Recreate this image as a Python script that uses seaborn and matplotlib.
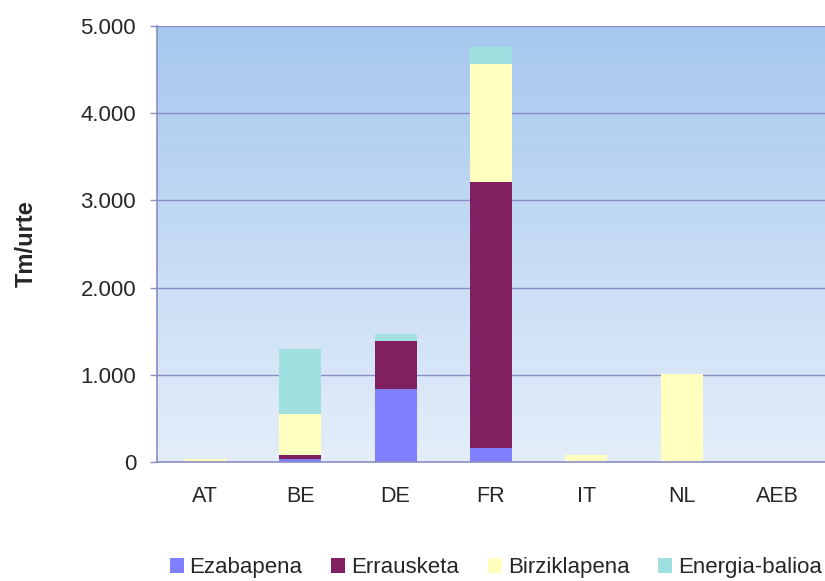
import numpy as np
import pandas as pd
import matplotlib
matplotlib.use('Agg')
import matplotlib.pyplot as plt
import seaborn as sns
from matplotlib.patches import Patch
from matplotlib.ticker import FuncFormatter

# data (Tm/urte)
countries = ['AT', 'BE', 'DE', 'FR', 'IT', 'NL', 'AEB']
ezabapena = [0, 30, 840, 160, 0, 0, 0]
errausketa = [0, 45, 550, 3050, 0, 0, 0]
birziklapena = [30, 475, 0, 1355, 80, 1010, 0]
energia = [0, 745, 80, 195, 0, 0, 0]

series = ['Ezabapena', 'Errausketa', 'Birziklapena', 'Energia-balioa']
colors = ['#8080FF', '#802060', '#FFFFC0', '#A0E0E0']

df = pd.DataFrame({'Ezabapena': ezabapena, 'Errausketa': errausketa,
                   'Birziklapena': birziklapena, 'Energia-balioa': energia},
                  index=countries)
cum = df.cumsum(axis=1)

sns.set_style('white')
plt.rcParams['font.family'] = ['Liberation Sans', 'DejaVu Sans']

fig = plt.figure(figsize=(8.25, 5.81), dpi=100)
ax = fig.add_axes([157 / 825, 1 - 462 / 581, 1 - 157 / 825, (462 - 26) / 581])

# gradient background
grad = np.linspace(0, 1, 256).reshape(-1, 1)
top = np.array([0.651, 0.784, 0.933])
bot = np.array([0.894, 0.933, 0.980])
img = top * (1 - grad[..., None]) + bot * grad[..., None]
ax.imshow(img.reshape(256, 1, 3), extent=[0, 1, 0, 1], transform=ax.transAxes,
          aspect='auto', zorder=0)

grid_c = '#8C8CC4'
for y in range(1000, 5001, 1000):
    ax.axhline(y, color=grid_c, lw=1, zorder=1)

# stacked bars: draw cumulative totals from the top layer down
for name, col in reversed(list(zip(series, colors))):
    sns.barplot(x=countries, y=cum[name].values, color=col, width=0.44,
                saturation=1, edgecolor='none', linewidth=0, ax=ax, zorder=2)

ax.set_xlim(-0.5, 6.5)
ax.set_ylim(0, 5000)
ax.set_yticks(range(0, 5001, 1000))
ax.yaxis.set_major_formatter(FuncFormatter(lambda v, p: f'{int(v):,}'.replace(',', '.')))
ax.tick_params(axis='y', left=True, length=5, width=1, color=grid_c, labelsize=16, pad=10)
ax.tick_params(axis='x', bottom=False, labelsize=15.5, pad=14)
for s in ['top', 'right']:
    ax.spines[s].set_visible(False)
for s in ['left', 'bottom']:
    ax.spines[s].set_color(grid_c)
    ax.spines[s].set_linewidth(1.2)
ax.set_ylabel('Tm/urte', fontsize=17, fontweight='bold', labelpad=31)
ax.set_xlabel('')

handles = [Patch(facecolor=c, edgecolor='none') for c in colors]
fig.legend(handles, series, loc='lower center', bbox_to_anchor=(0.601, -0.03), ncol=4,
           frameon=False, fontsize=16, handlelength=0.62, handleheight=0.62,
           handletextpad=0.27, columnspacing=1.3)

fig.savefig('out.png', dpi=100)
